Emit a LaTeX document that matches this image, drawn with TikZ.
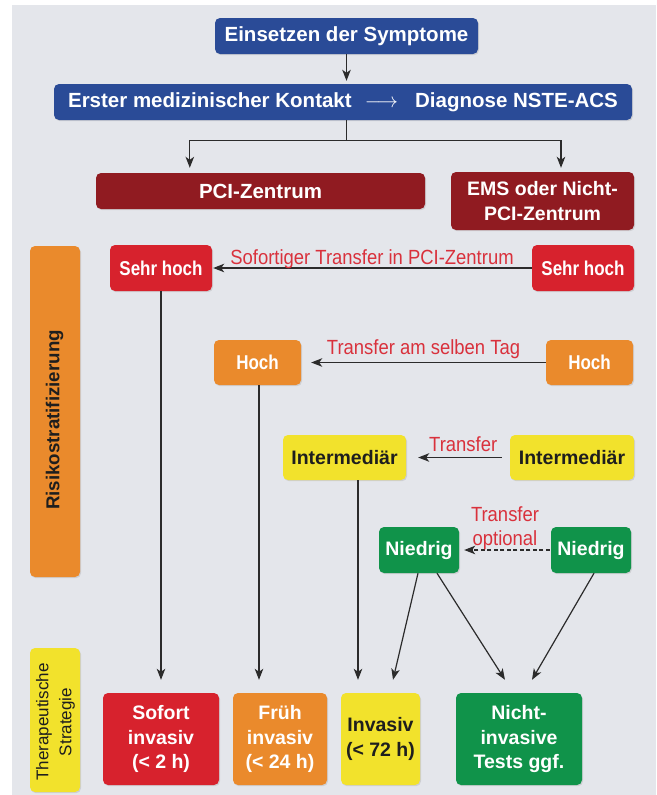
\documentclass[tikz,border=0pt]{standalone}
\usepackage{fontspec}
\setmainfont{Liberation Sans}
\newfontfamily\lblfont[FakeStretch=0.9]{Liberation Sans}
\newfontfamily\condfont[FakeStretch=0.85]{Liberation Sans}
\usetikzlibrary{arrows.meta,shadows,calc}
\definecolor{bgc}{HTML}{E4E6EB}
\definecolor{blu}{HTML}{2A4B97}
\definecolor{drd}{HTML}{901B21}
\definecolor{rd}{HTML}{D7222D}
\definecolor{org}{HTML}{EA8A2C}
\definecolor{yel}{HTML}{F2E22C}
\definecolor{grn}{HTML}{10934A}
\definecolor{lblred}{HTML}{D9313C}
\definecolor{ln}{HTML}{2B2B2B}
\definecolor{dtxt}{HTML}{1E1E1E}
\tikzset{
  box/.style={rounded corners=5pt, inner sep=0pt, align=center, text=white,
    drop shadow={shadow xshift=1pt, shadow yshift=-1.2pt, opacity=0.22}},
  fA/.style={font=\bfseries\fontsize{20.5}{24}\selectfont},
  fB/.style={font=\bfseries\fontsize{19.5}{24.5}\selectfont},
  fC/.style={font=\condfont\bfseries\fontsize{20}{24}\selectfont},
  arr/.style={draw=ln, line width=1.2pt, -{Stealth[length=11pt,width=8.5pt,inset=3pt]}},
  plain/.style={draw=ln, line width=1.2pt},
  lbl/.style={text=lblred, font=\lblfont\fontsize{20.5}{24}\selectfont, inner sep=0pt, anchor=base},
}
\begin{document}
\begin{tikzpicture}[x=1pt,y=-1pt]
\useasboundingbox (0,0) rectangle (656,795);
\fill[bgc] (12,5) rectangle (656,795);

% top
\node[box, fA, fill=blu, minimum width=263, minimum height=36] (s1) at (346.5,36) {Einsetzen der Symptome};
\node[box, fA, fill=blu, minimum width=578, minimum height=36] (s2) at (343,102)
  {Erster medizinischer Kontakt\hspace{13pt}$\longrightarrow$\hspace{17pt}Diagnose NSTE-ACS};
\node[box, fA, fill=drd, minimum width=329, minimum height=36] (pci) at (260.5,191) {PCI-Zentrum};
\node[box, fB, fill=drd, minimum width=183, minimum height=58] (ems) at (542.5,201) {EMS oder Nicht-\\PCI-Zentrum};

\draw[arr, shorten >=3pt] (s1.south) -- (s1.south |- s2.north);
\draw[plain] (s1.south |- s2.south) -- ++(0,20) coordinate (br);
\coordinate (pciin) at ($(pci.north west)+(94,-5)$);
\coordinate (emsin) at ($(ems.north)+(18.5,-4)$);
\draw[arr] (br) -| (pciin);
\draw[arr] (br) -| (emsin);

% side bars
\node[box, fill=org, minimum width=50, minimum height=331] (risk) at (55,411.5) {};
\node[rotate=90, text=dtxt, font=\bfseries\fontsize{18.7}{22}\selectfont, inner sep=0pt] (risktxt) at (54.5,420) {Risikostratifizierung};
\node[box, fill=yel, minimum width=50, minimum height=144] (strat) at (55,720) {};
\node[rotate=90, text=dtxt, align=center, font=\fontsize{17}{23}\selectfont, inner sep=0pt] (strattxt) at (55.5,722) {Therapeutische\\Strategie};

% risk nodes
\node[box, fC, fill=rd, minimum width=102, minimum height=46] (shl) at (161,268) {Sehr hoch};
\node[box, fC, fill=rd, minimum width=102, minimum height=46] (shr) at (583,268) {Sehr hoch};
\node[box, fC, fill=org, minimum width=87, minimum height=45] (hol) at (257.5,362.5) {Hoch};
\node[box, fC, fill=org, minimum width=87, minimum height=45] (hor) at (589.5,362.5) {Hoch};
\node[box, fB, fill=yel, text=dtxt, minimum width=123, minimum height=45] (iml) at (344.5,457.5) {Intermediär};
\node[box, fB, fill=yel, text=dtxt, minimum width=124, minimum height=45] (imr) at (572,457.5) {Intermediär};
\node[box, fB, fill=grn, minimum width=80, minimum height=46] (nl) at (419,550) {Niedrig};
\node[box, fB, fill=grn, minimum width=80, minimum height=46] (nr) at (591,550) {Niedrig};

% bottom nodes
\node[box, fB, fill=rd, minimum width=116, minimum height=92] (sof) at (161,739) {Sofort\\invasiv\\(< 2 h)};
\node[box, fB, fill=org, minimum width=94, minimum height=92] (fru) at (280,739) {Früh\\invasiv\\(< 24 h)};
\node[box, fB, fill=yel, text=dtxt, minimum width=79, minimum height=92] (inv) at (380.5,739) {Invasiv\\(< 72 h)};
\node[box, fB, fill=grn, minimum width=126, minimum height=92] (nic) at (519,739) {Nicht-\\invasive\\Tests ggf.};

% transfers
\draw[arr, shorten >=1pt] (shr.west) -- (shl.east)
  node[lbl, pos=0.5, yshift=4pt] {Sofortiger Transfer in PCI-Zentrum};
\draw[arr, shorten >=10pt] (hor.west) -- (hol.east)
  node[lbl, pos=0.5, yshift=8pt] {Transfer am selben Tag};
\draw[arr, shorten <=8pt, shorten >=12pt] (imr.west) -- (iml.east)
  node[lbl, pos=0.45, yshift=6pt] {Transfer};
\draw[arr, dash pattern=on 4pt off 2.5pt, shorten <=1pt, shorten >=5pt] (nr.west) -- (nl.east)
  node[lbl, pos=0.5, yshift=29pt] {Transfer}
  node[lbl, pos=0.5, yshift=5pt] {optional};

% vertical flows
\coordinate (hs) at ($(hol.south)+(1.5,0)$);
\coordinate (is) at ($(iml.south)+(13.5,0)$);
\coordinate (nla) at ($(nl.south)+(-1,0)$);
\coordinate (nlb) at ($(nl.south)+(18,0)$);
\coordinate (nrs) at ($(nr.south)+(3,0)$);
\coordinate (inva) at ($(inv.north)+(12.5,-13)$);
\coordinate (nica) at ($(nic.north)+(-14,-13)$);
\coordinate (nicb) at ($(nic.north)+(13,-13)$);
\draw[arr, shorten >=13pt] (shl.south) -- (shl.south |- sof.north);
\draw[arr, shorten >=13pt] (hs) -- (hs |- fru.north);
\draw[arr, shorten >=13pt] (is) -- (is |- inv.north);
\draw[arr] (nla) -- (inva);
\draw[arr] (nlb) -- (nica);
\draw[arr] (nrs) -- (nicb);
\end{tikzpicture}
\end{document}
